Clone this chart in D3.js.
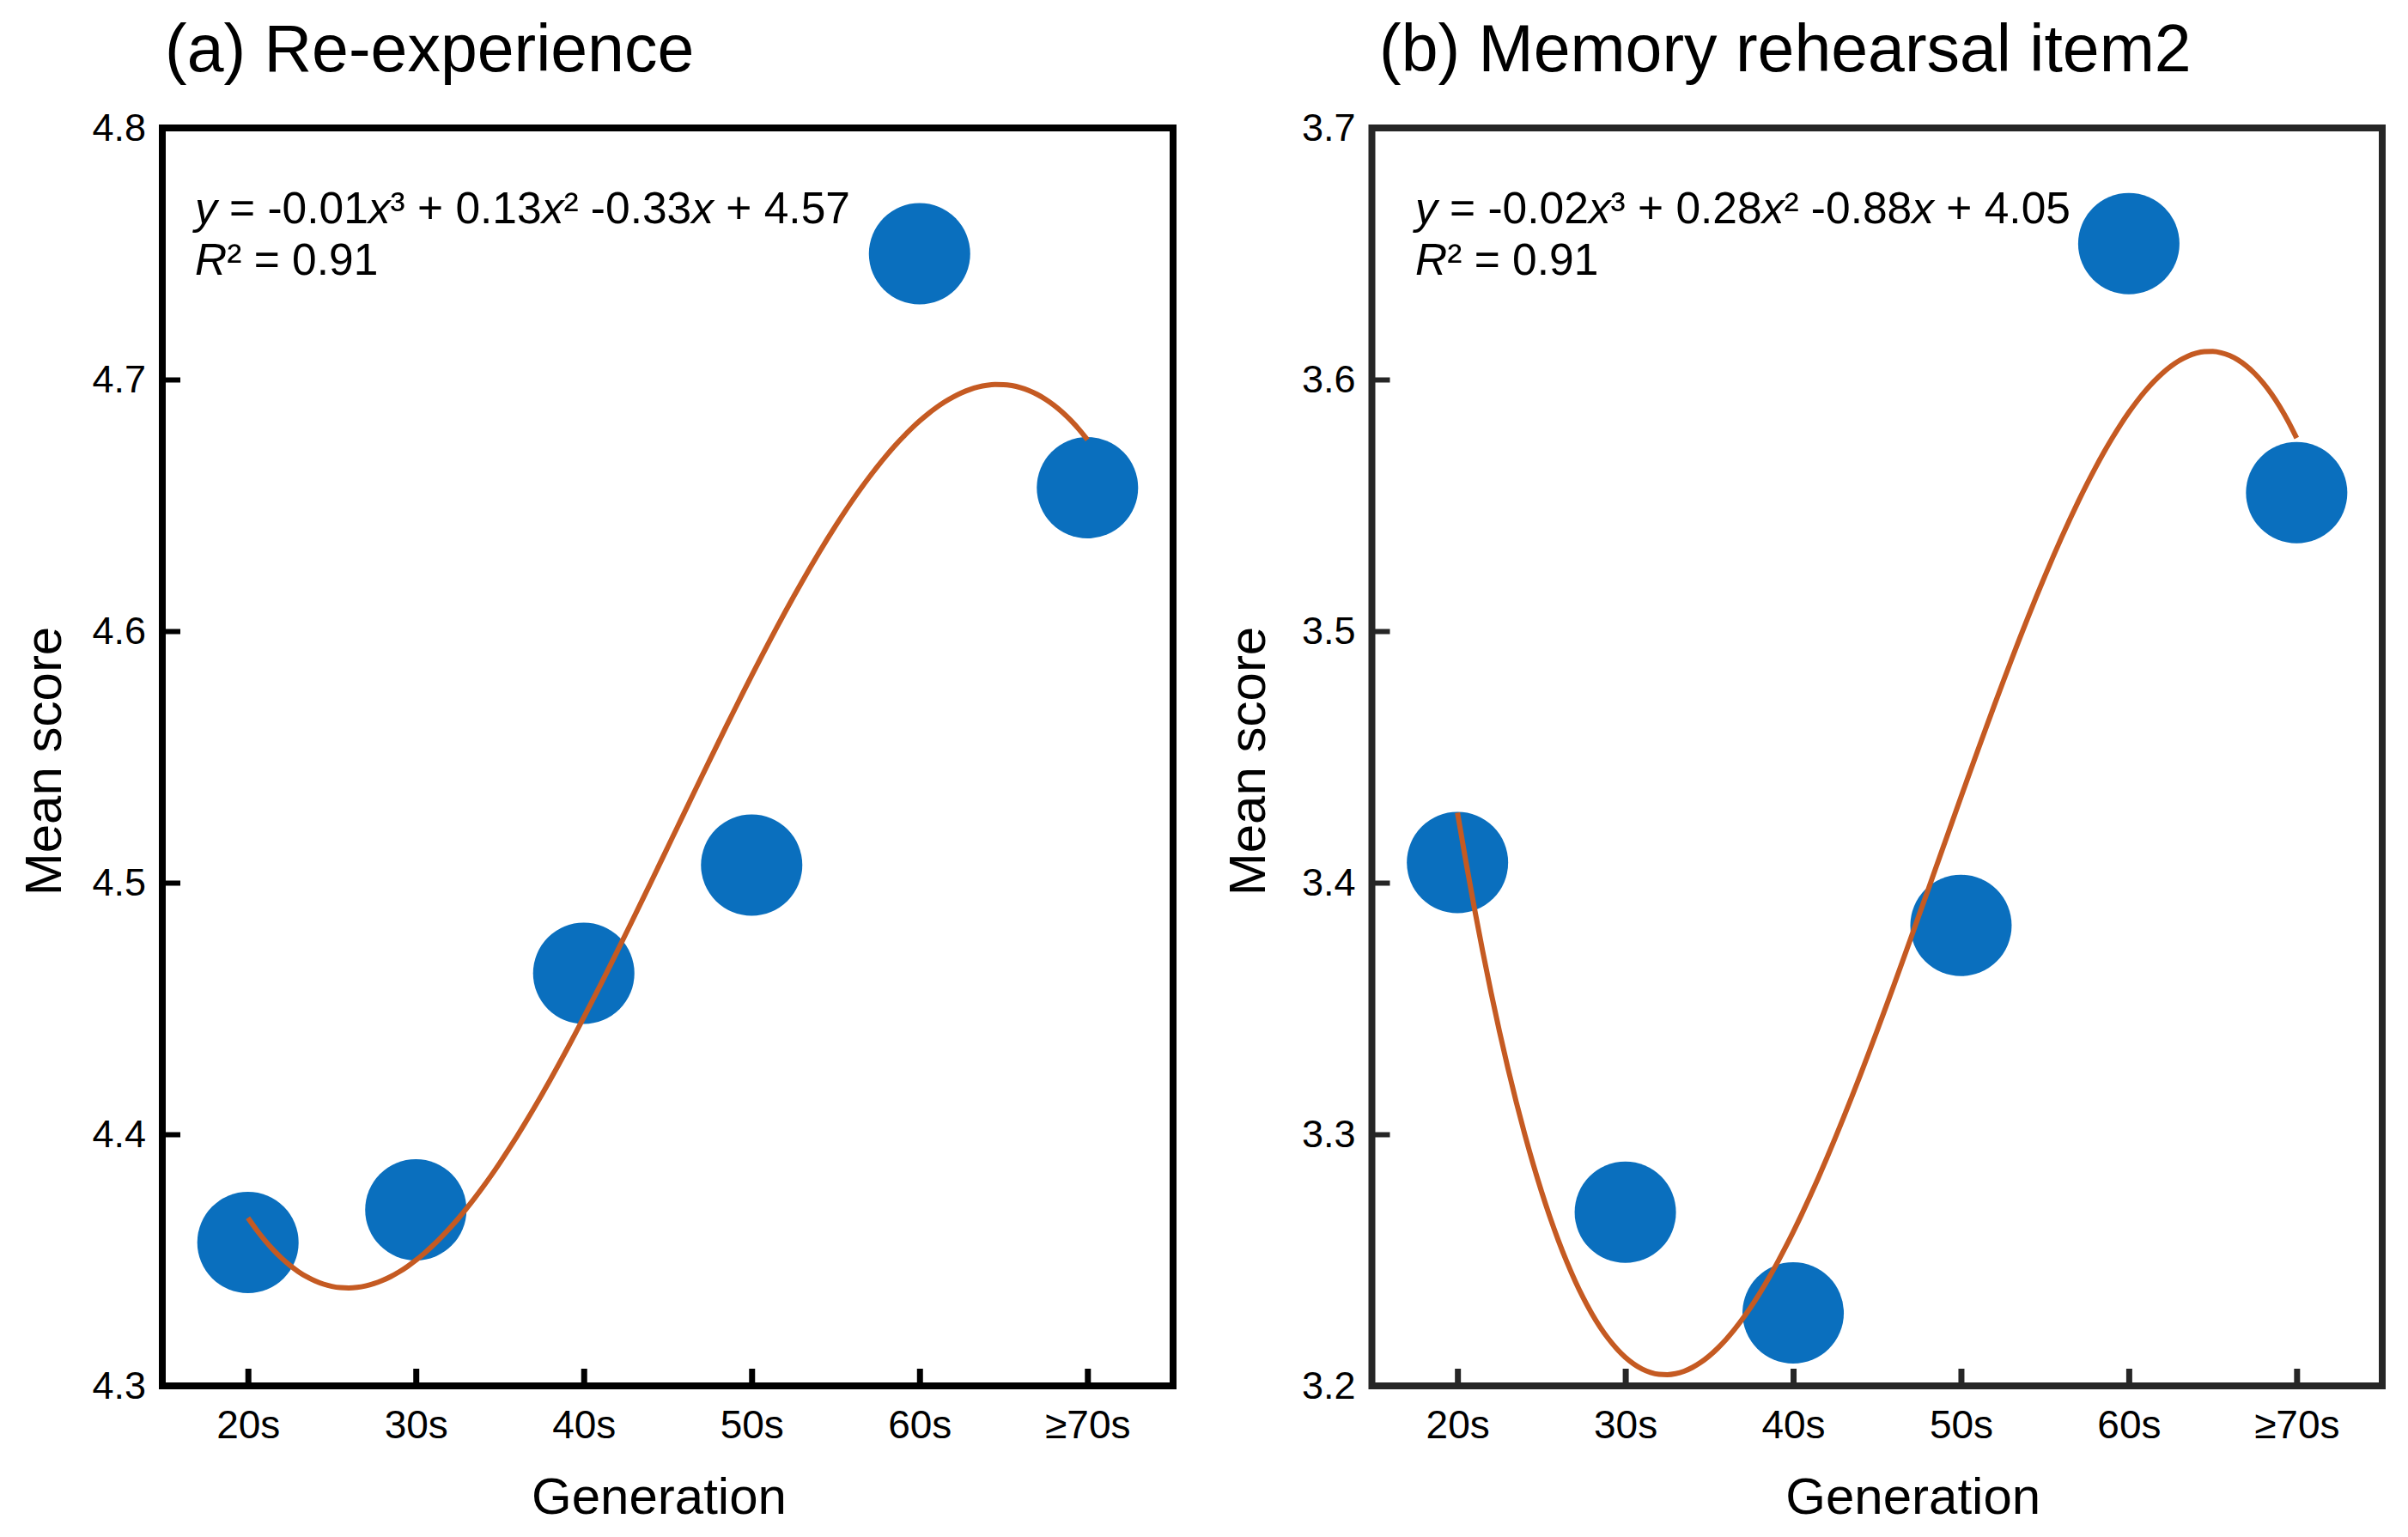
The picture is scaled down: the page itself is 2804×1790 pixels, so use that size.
<!DOCTYPE html>
<html>
<head>
<meta charset="utf-8">
<script src="https://cdn.jsdelivr.net/npm/d3@7"></script>
<style>
  html, body { margin: 0; padding: 0; background: #ffffff; }
  svg { display: block; }
  text { font-family: "Liberation Sans", Arial, Helvetica, sans-serif; fill: #000; }
</style>
</head>
<body>
<svg id="chart" width="2804" height="1790"></svg>
<script>
// ---- data ----
const categories = ["20s", "30s", "40s", "50s", "60s", "\u226570s"];
const reexperienceValues = [4.357, 4.370, 4.464, 4.507, 4.750, 4.657];
const rehearsalValues = [3.408, 3.269, 3.229, 3.383, 3.654, 3.555];
const yTicksA = [4.3, 4.4, 4.5, 4.6, 4.7, 4.8];
const yTicksB = [3.2, 3.3, 3.4, 3.5, 3.6, 3.7];
const titles = ["(a) Re-experience", "(b) Memory rehearsal item2"];
const coefTextA = ["-0.01", "0.13", "-0.33", "4.57"];
const coefTextB = ["-0.02", "0.28", "-0.88", "4.05"];
const r2Text = ["0.91", "0.91"];
const xAxisTitle = "Generation";
const yAxisTitle = "Mean score";

// ---- cubic least-squares fit (trend line) ----
function cubicFit(ys) {
  const n = 4;
  const A = [], b = [];
  for (let i = 0; i < n; i++) { A.push(new Array(n).fill(0)); b.push(0); }
  ys.forEach((y, k) => {
    const x = k + 1;
    for (let i = 0; i < n; i++) {
      for (let j = 0; j < n; j++) A[i][j] += Math.pow(x, i + j);
      b[i] += y * Math.pow(x, i);
    }
  });
  for (let c = 0; c < n; c++) {
    let p = c;
    for (let r = c + 1; r < n; r++) if (Math.abs(A[r][c]) > Math.abs(A[p][c])) p = r;
    [A[c], A[p]] = [A[p], A[c]]; [b[c], b[p]] = [b[p], b[c]];
    for (let r = c + 1; r < n; r++) {
      const f = A[r][c] / A[c][c];
      for (let j = c; j < n; j++) A[r][j] -= f * A[c][j];
      b[r] -= f * b[c];
    }
  }
  const coef = new Array(n).fill(0);
  for (let i = n - 1; i >= 0; i--) {
    let s = b[i];
    for (let j = i + 1; j < n; j++) s -= A[i][j] * coef[j];
    coef[i] = s / A[i][i];
  }
  return x => coef[0] + coef[1] * x + coef[2] * x * x + coef[3] * x * x * x;
}

const svg = d3.select("#chart");

const panels = [
  { values: reexperienceValues, ticks: yTicksA, title: titles[0], coefs: coefTextA, r2: r2Text[0],
    x0: 189, x1: 1366, frame: "#000000", eqX: 227, titleX: 192, yTitleX: 50, xTitleDx: -10 },
  { values: rehearsalValues, ticks: yTicksB, title: titles[1], coefs: coefTextB, r2: r2Text[1],
    x0: 1597.5, x1: 2774, frame: "#262626", eqX: 1648, titleX: 1606, yTitleX: 1452, xTitleDx: 42 }
];

const y0 = 149, y1 = 1614;

panels.forEach(p => {
  const g = svg.append("g");
  const x = d3.scalePoint().domain(categories).range([p.x0, p.x1]).padding(0.51);
  const y = d3.scaleLinear().domain([p.ticks[0], p.ticks[p.ticks.length - 1]]).range([y1, y0]);

  // title
  g.append("text").attr("x", p.titleX).attr("y", 83)
    .attr("font-size", 77).text(p.title);

  // axes
  const yAxis = d3.axisLeft(y).tickValues(p.ticks).tickFormat(d3.format(".1f"))
    .tickSizeInner(-21).tickSizeOuter(0).tickPadding(19);
  const yg = g.append("g").attr("transform", `translate(${p.x0},0)`).call(yAxis);
  yg.select(".domain").remove();
  yg.selectAll(".tick line").attr("stroke", p.frame).attr("stroke-width", 6);
  yg.selectAll(".tick text").attr("font-size", 45)
    .attr("font-family", "'Liberation Sans', Arial, sans-serif").attr("fill", "#000");
  yg.selectAll(".tick").filter((d, i) => i === 0 || i === p.ticks.length - 1).select("line").remove();

  const xAxis = d3.axisBottom(x).tickSizeInner(-20).tickSizeOuter(0).tickPadding(28);
  const xg = g.append("g").attr("transform", `translate(0,${y1})`).call(xAxis);
  xg.select(".domain").remove();
  xg.selectAll(".tick line").attr("stroke", p.frame).attr("stroke-width", 7);
  xg.selectAll(".tick text").attr("font-size", 46)
    .attr("font-family", "'Liberation Sans', Arial, sans-serif").attr("fill", "#000");

  // frame
  g.append("rect").attr("x", p.x0).attr("y", y0)
    .attr("width", p.x1 - p.x0).attr("height", y1 - y0)
    .attr("fill", "none").attr("stroke", p.frame).attr("stroke-width", 8);

  // axis titles
  g.append("text").attr("x", (p.x0 + p.x1) / 2 + p.xTitleDx).attr("y", 1763)
    .attr("text-anchor", "middle").attr("font-size", 60).text(xAxisTitle);
  g.append("text").attr("transform", `translate(${p.yTitleX + 21},${(y0 + y1) / 2 + 5}) rotate(-90)`)
    .attr("text-anchor", "middle").attr("font-size", 60).text(yAxisTitle);

  // points
  g.selectAll("circle.pt").data(p.values).enter().append("circle")
    .attr("class", "pt")
    .attr("cx", (d, i) => x(categories[i]))
    .attr("cy", d => y(d))
    .attr("r", 59)
    .attr("fill", "#0A6FBE");

  // trend line (cubic least-squares fit over category index 1..6)
  const f = cubicFit(p.values);
  const xi = d3.scaleLinear().domain([1, categories.length])
    .range([x(categories[0]), x(categories[categories.length - 1])]);
  const samples = d3.range(1, categories.length + 0.0001, 0.05);
  const line = d3.line().x(t => xi(t)).y(t => y(f(t))).curve(d3.curveMonotoneX);
  g.append("path").datum(samples).attr("d", line)
    .attr("fill", "none").attr("stroke", "#C55A22").attr("stroke-width", 6);

  // equation
  const eq = g.append("text").attr("x", p.eqX).attr("y", 260).attr("font-size", 51.5);
  eq.append("tspan").attr("font-style", "italic").text("y");
  eq.append("tspan").text(" = " + p.coefs[0]);
  eq.append("tspan").attr("font-style", "italic").text("x");
  eq.append("tspan").text("\u00B3 + " + p.coefs[1]);
  eq.append("tspan").attr("font-style", "italic").text("x");
  eq.append("tspan").text("\u00B2 " + p.coefs[2]);
  eq.append("tspan").attr("font-style", "italic").text("x");
  eq.append("tspan").text(" + " + p.coefs[3]);

  const r2 = g.append("text").attr("x", p.eqX).attr("y", 320).attr("font-size", 51.5);
  r2.append("tspan").attr("font-style", "italic").text("R");
  r2.append("tspan").text("\u00B2 = " + p.r2);
});
</script>
</body>
</html>
